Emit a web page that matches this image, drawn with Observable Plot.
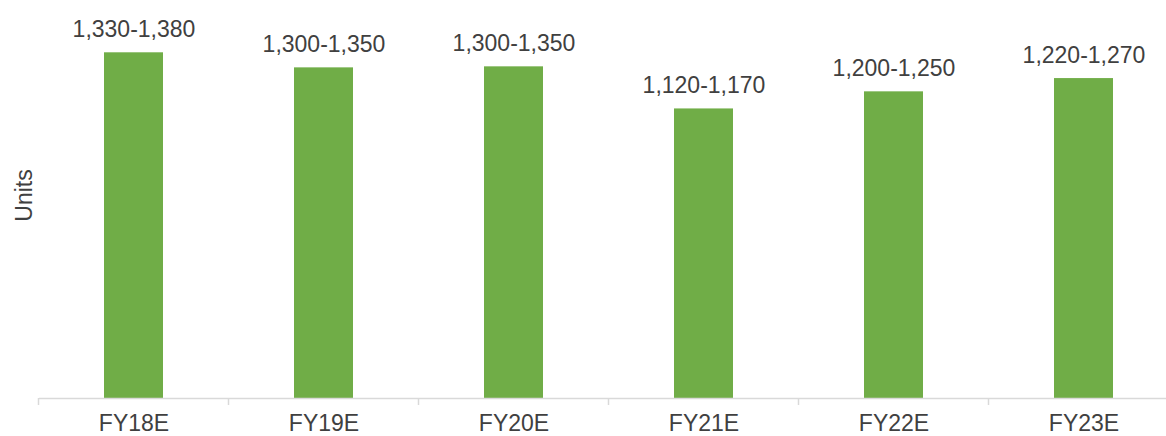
<!DOCTYPE html>
<html>
<head>
<meta charset="utf-8">
<script src="https://cdn.jsdelivr.net/npm/d3@7"></script>
<script src="https://cdn.jsdelivr.net/npm/@observablehq/plot@0.6"></script>
<style>
  html, body { margin: 0; padding: 0; background: #fff; }
  #chart svg { display: block; }
</style>
</head>
<body>
<div id="chart"></div>
<script>
const categories = ["FY18E", "FY19E", "FY20E", "FY21E", "FY22E", "FY23E"];
const rangeLabels = ["1,330-1,380", "1,300-1,350", "1,300-1,350", "1,120-1,170", "1,200-1,250", "1,220-1,270"];
// bar heights (units)
const barValues = [1355, 1296, 1300, 1135, 1202, 1254];
const yAxisTitle = "Units";

const data = categories.map((c, i) => ({ category: c, value: barValues[i], label: rangeLabels[i] }));

const chart = Plot.plot({
  width: 1166,
  height: 436,
  marginLeft: 39,
  marginRight: -13,
  marginTop: 0,
  marginBottom: 38,
  x: { domain: categories, paddingInner: 0.687, paddingOuter: 0.3435, label: null },
  y: { domain: [0, 1560], axis: null },
  style: { fontFamily: "'Liberation Sans', Arial, sans-serif", fontSize: "23px", color: "#404040", background: "#fff" },
  marks: [
    Plot.barY(data, { x: "category", y: "value", fill: "#70AD47" }),
    Plot.ruleY([0], { stroke: "#d9d9d9", strokeWidth: 1.5 }),
    Plot.text(data, { x: "category", y: "value", text: "label", dy: -16, lineAnchor: "bottom", fill: "#404040" }),
    Plot.axisX({ tickSize: 0, tickPadding: 16, label: null, fill: "#404040" }),
    Plot.text([yAxisTitle], { frameAnchor: "left", rotate: -90, dx: -14.5, dy: -4, textAnchor: "middle", lineAnchor: "middle", fill: "#404040" })
  ]
});

document.getElementById("chart").appendChild(chart);

// tick marks at category boundaries, placed via Plot's own scales
const xs = chart.scale("x");
const ys = chart.scale("y");
const gap = xs.step - xs.bandwidth;
const boundaries = categories.map(c => xs.apply(c) - gap / 2);
boundaries.push(xs.apply(categories[categories.length - 1]) + xs.bandwidth + gap / 2);
const y0 = ys.apply(0);
d3.select(chart).append("g")
  .selectAll("line")
  .data(boundaries)
  .join("line")
  .attr("x1", d => d).attr("x2", d => d)
  .attr("y1", y0).attr("y2", y0 + 7)
  .attr("stroke", "#d9d9d9")
  .attr("stroke-width", 1.5);
</script>
</body>
</html>
